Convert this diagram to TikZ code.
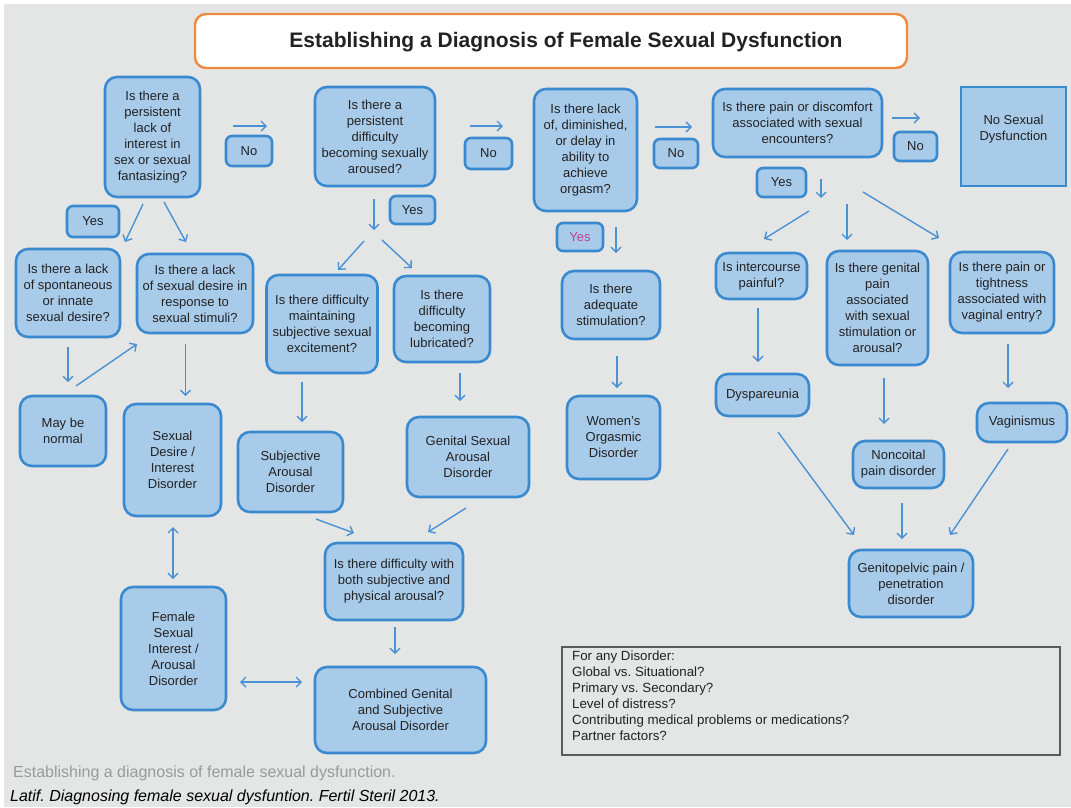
\documentclass[tikz,border=0pt]{standalone}
\usepackage{fontspec}
\setmainfont{Liberation Sans}
\usetikzlibrary{arrows.meta}
\frenchspacing

\definecolor{pagebg}{HTML}{E4E5E5}
\definecolor{boxfill}{HTML}{A9CBEA}
\definecolor{boxline}{HTML}{3A8AD0}
\definecolor{arrowcol}{HTML}{4A92D4}
\definecolor{titleline}{HTML}{EF8A3E}
\definecolor{txt}{HTML}{222222}
\definecolor{yespink}{HTML}{C2408E}
\definecolor{capgray}{HTML}{9A9A9A}
\definecolor{noteline}{HTML}{5A5A5A}

\tikzset{
  x=1pt, y=-1pt,
  boxtext/.style={font=\fontsize{13}{16}\selectfont, text=txt, align=center},
  qbox/.style={boxtext, draw=boxline, fill=boxfill, line width=2.6pt,
    rounded corners=12pt, inner sep=0pt},
  smallbox/.style={qbox, rounded corners=6pt},
  flow/.style={draw=arrowcol, line width=1.4pt,
    -{Straight Barb[length=5pt,width=10pt,line width=1.4pt]}},
  biflow/.style={draw=arrowcol, line width=1.4pt,
    {Straight Barb[length=5pt,width=10pt,line width=1.4pt]}-{Straight Barb[length=5pt,width=10pt,line width=1.4pt]}},
}
% box of given width and height centred on a point
\newcommand{\bx}[7][qbox]{\node[#1, minimum width=#5pt, minimum height=#6pt] (#2) at (#3,#4) {#7};}

\begin{document}
\begin{tikzpicture}
% page
\fill[white] (0,0) rectangle (1071,807);
\fill[pagebg] (4,4) rectangle (1071,807);
\useasboundingbox (0,0) rectangle (1071,807);

% title
\node[draw=titleline, fill=white, line width=2.4pt, rounded corners=11pt,
  minimum width=712pt, minimum height=54pt, inner sep=0pt] (title) at (551,41) {};
\node[font=\fontsize{21}{24}\selectfont\bfseries, text=txt, inner sep=0pt]
  (titletext) at (566,42) {Establishing a Diagnosis of Female Sexual Dysfunction};

% first row of questions
\bx{q1}{152.5}{137}{95}{120}{Is there a\\persistent\\lack of\\interest in\\sex or sexual\\fantasizing?}
\bx{q2}{375}{136.5}{120}{99}{Is there a\\persistent\\difficulty\\becoming sexually\\aroused?}
\bx{q3}{585.5}{150}{103}{122}{Is there lack\\of, diminished,\\or delay in\\ability to\\achieve\\orgasm?}
\bx{q4}{797.5}{123}{169}{68}{Is there pain or discomfort\\associated with sexual\\encounters?}
\node[draw=boxline, fill=boxfill, line width=2.6pt, minimum width=105pt,
  minimum height=99pt, inner sep=0pt] (nosd) at (1013.5,136.5) {};
\node[boxtext] (nosdtext) at (1013.5,129) {No Sexual\\Dysfunction};

% yes / no labels
\bx[smallbox]{no1}{249}{151}{46}{30}{No}
\bx[smallbox]{no2}{488.5}{153.5}{47}{31}{No}
\bx[smallbox]{no3}{676}{153.5}{44}{29}{No}
\bx[smallbox]{no4}{915.5}{146.5}{43}{29}{No}
\bx[smallbox]{yes1}{93}{221.5}{52}{31}{Yes}
\bx[smallbox]{yes2}{412.5}{210}{45}{28}{Yes}
\bx[smallbox]{yes3}{580}{237}{46}{28}{\textcolor{yespink}{Yes}}
\bx[smallbox]{yes4}{781.5}{182.5}{49}{29}{Yes}

% desire branch
\bx{ls}{68}{293}{104}{88}{Is there a lack\\of spontaneous\\or innate\\sexual desire?}
\bx{ld}{195}{293.5}{116}{79}{Is there a lack\\of sexual desire in\\response to\\sexual stimuli?}
\bx{mbn}{63}{431}{86}{70}{May be\\normal}
\bx{sdid}{172.5}{460}{97}{112}{Sexual\\Desire /\\Interest\\Disorder}
\bx{fsiad}{173.5}{648.5}{105}{123}{Female\\Sexual\\Interest /\\Arousal\\Disorder}

% arousal branch
\bx{seq}{322}{324}{111}{98}{Is there difficulty\\maintaining\\subjective sexual\\excitement?}
\bx{lub}{442}{319}{96}{86}{Is there\\difficulty\\becoming\\lubricated?}
\bx{sad}{290.5}{472}{105}{80}{Subjective\\Arousal\\Disorder}
\bx{gsad}{468}{457}{122}{80}{Genital Sexual\\Arousal\\Disorder}
\bx{both}{394}{581.5}{138}{77}{Is there difficulty with\\both subjective and\\physical arousal?}
\bx{cgsad}{400.5}{710}{171}{86}{Combined Genital\\and Subjective\\Arousal Disorder}

% orgasm branch
\bx{adq}{611}{305}{98}{68}{Is there\\adequate\\stimulation?}
\bx{wod}{613.5}{437.5}{93}{83}{Women’s\\Orgasmic\\Disorder}

% pain branch
\bx{iip}{761.5}{276}{91}{46}{Is intercourse\\painful?}
\bx{gpq}{877.5}{308}{101}{114}{Is there genital\\pain\\associated\\with sexual\\stimulation or\\arousal?}
\bx{ptq}{1002}{292.5}{104}{81}{Is there pain or\\tightness\\associated with\\vaginal entry?}
\bx{dys}{762.5}{395}{93}{42}{Dyspareunia}
\bx{ncp}{898.5}{464.5}{91}{47}{Noncoital\\pain disorder}
\bx{vag}{1022}{422.5}{90}{39}{Vaginismus}
\bx{gppd}{911}{583.5}{124}{67}{Genitopelvic pain /\\penetration\\disorder}

% specifiers
\node[draw=noteline, line width=1.8pt, minimum width=498pt, minimum height=108pt,
  inner sep=0pt] (any) at (811,701) {};
\node[anchor=north west, font=\fontsize{13.3}{16}\selectfont, text=txt, align=left,
  inner sep=0pt] (anytext) at (572,651)
  {For any Disorder:\\Global vs. Situational?\\Primary vs. Secondary?\\Level of distress?\\Contributing medical problems or medications?\\Partner factors?};

% captions
\node[anchor=west, font=\fontsize{16}{18}\selectfont, text=capgray, inner sep=0pt]
  (cap1) at (13,773) {Establishing a diagnosis of female sexual dysfunction.};
\node[anchor=west, font=\fontsize{16}{18}\selectfont\itshape, text=black, inner sep=0pt]
  (cap2) at (10,797) {Latif. Diagnosing female sexual dysfuntion. Fertil Steril 2013.};

% arrow end points
\coordinate (a1s) at (233,126);  \coordinate (a1e) at (267,126);
\coordinate (a2s) at (470,126);  \coordinate (a2e) at (503,126);
\coordinate (a3s) at (655,127);  \coordinate (a3e) at (692,127);
\coordinate (a4s) at (892,118);  \coordinate (a4e) at (920,118);
\coordinate (q1ls) at (143,204); \coordinate (q1le) at (125,242);
\coordinate (q1rs) at (164,202); \coordinate (q1re) at (186,242);
\coordinate (q2ds) at (374,199); \coordinate (q2de) at (374,230);
\coordinate (q2ls) at (364,241); \coordinate (q2le) at (338,270);
\coordinate (q2rs) at (382,240); \coordinate (q2re) at (412,268);
\coordinate (q3ds) at (616,227); \coordinate (q3de) at (616,253);
\coordinate (q4ds) at (821,179); \coordinate (q4de) at (821,198);
\coordinate (q4ls) at (809,211); \coordinate (q4le) at (764,239);
\coordinate (q4ms) at (847,204); \coordinate (q4me) at (847,240);
\coordinate (q4rs) at (863,192); \coordinate (q4re) at (939,238);
\coordinate (lsds) at (68,347);  \coordinate (lsde) at (68,382);
\coordinate (mbs) at (76,386);   \coordinate (mbe) at (137,344);
\coordinate (ldds) at (185.5,344); \coordinate (ldde) at (185.5,396);
\coordinate (seqs) at (302,382); \coordinate (seqe) at (302,422);
\coordinate (lubs) at (460,373); \coordinate (lube) at (460,401);
\coordinate (sads) at (316,519); \coordinate (sade) at (354,533);
\coordinate (gsas) at (466,508); \coordinate (gsae) at (428,532);
\coordinate (boths) at (395,627); \coordinate (bothe) at (395,654);
\coordinate (sdfs) at (173,527); \coordinate (sdfe) at (173,579);
\coordinate (fcs) at (240,682);  \coordinate (fce) at (302,682);
\coordinate (adqs) at (617,356); \coordinate (adqe) at (617,388);
\coordinate (iips) at (758,308); \coordinate (iipe) at (758,362);
\coordinate (gpqs) at (884,378); \coordinate (gpqe) at (884,424);
\coordinate (ptqs) at (1008,344); \coordinate (ptqe) at (1008,388);
\coordinate (dyss) at (778,432); \coordinate (dyse) at (854,535);
\coordinate (ncps) at (902,503); \coordinate (ncpe) at (902,539);
\coordinate (vags) at (1008,449); \coordinate (vage) at (950,535);

% connectors
\foreach \s/\e in {a1s/a1e, a2s/a2e, a3s/a3e, a4s/a4e, q1ls/q1le, q1rs/q1re,
  q2ds/q2de, q2ls/q2le, q2rs/q2re, q3ds/q3de, q4ds/q4de, q4ls/q4le, q4ms/q4me,
  q4rs/q4re, lsds/lsde, mbs/mbe, ldds/ldde, seqs/seqe, lubs/lube, sads/sade,
  gsas/gsae, boths/bothe, adqs/adqe, iips/iipe, gpqs/gpqe, ptqs/ptqe,
  dyss/dyse, ncps/ncpe, vags/vage}
  \draw[flow] (\s) -- (\e);
\draw[biflow] (sdfs) -- (sdfe);
\draw[biflow] (fcs) -- (fce);
\end{tikzpicture}
\end{document}
